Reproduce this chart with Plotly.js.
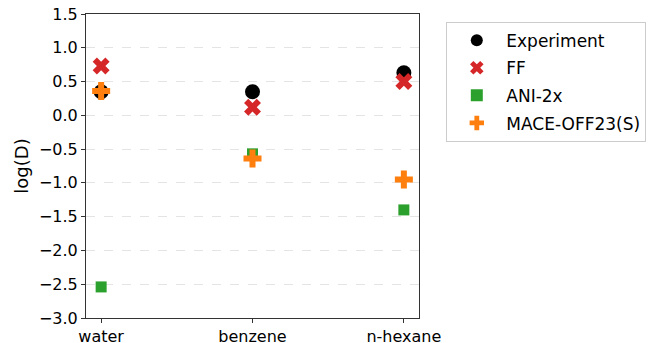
<!DOCTYPE html>
<html><head><meta charset="utf-8">
<script src="https://cdn.plot.ly/plotly-3.0.1.min.js"></script>
<style>body{margin:0;padding:0;background:#fff}#chart{width:659px;height:343px}</style>
</head><body><div id="chart"></div>
<script>
const solvents = ["water", "benzene", "n-hexane"];
const experiment = [0.35, 0.35, 0.63];
const ff = [0.73, 0.12, 0.50];
const ani2x = [-2.54, -0.57, -1.40];
const maceOff = [0.36, -0.64, -0.95];
const yTicks = [1.5, 1.0, 0.5, 0.0, -0.5, -1.0, -1.5, -2.0, -2.5, -3.0];

const idx = solvents.map((_, i) => i);
function tr(name, y, symbol, color, size) {
  return {type: "scatter", mode: "markers", name: name, legendgroup: name, x: idx, y: y,
    marker: {symbol: symbol, color: color, size: size, line: {width: 0}}};
}
const data = [
  tr("Experiment", experiment, "circle", "#000000", 15),
  tr("FF", ff, "x", "#d62728", 15),
  tr("ANI-2x", ani2x, "square", "#2ca02c", 11),
  tr("MACE-OFF23(S)", maceOff, "cross", "#ff7f0e", 15)
];
const layout = {
  width: 659, height: 343,
  margin: {l: 86, r: 240, t: 14, b: 25},
  paper_bgcolor: "#fff", plot_bgcolor: "#fff",
  font: {family: "DejaVu Sans", size: 16, color: "#000"},
  showlegend: true,
  xaxis: {range: [-0.1, 2.1], tickvals: idx, ticktext: solvents, showgrid: false, zeroline: false,
    showline: true, mirror: true, linecolor: "#333", linewidth: 1, ticks: "outside", ticklen: 4, tickcolor: "#333",
    tickfont: {size: 16}},
  yaxis: {range: [-3.0, 1.5], tickvals: yTicks, ticktext: yTicks.map(v => v.toFixed(1).replace("-", "\u2212")),
    showgrid: true, gridcolor: "#dddddd", griddash: "dash", gridwidth: 0.8, zeroline: false,
    showline: true, mirror: true, linecolor: "#333", linewidth: 1, ticks: "outside", ticklen: 4, tickcolor: "#333",
    tickfont: {size: 16}, title: {text: "log(D)", font: {size: 18}, standoff: 5}},
  legend: {x: 1.082, y: 0.975, xanchor: "left", yanchor: "top", bordercolor: "#cccccc", borderwidth: 1,
    font: {size: 17}, itemsizing: "constant", itemwidth: 49, tracegroupgap: 2.5, traceorder: "grouped", bgcolor: "#fff"}
};
Plotly.newPlot("chart", data, layout, {displayModeBar: false, staticPlot: true});
</script></body></html>
